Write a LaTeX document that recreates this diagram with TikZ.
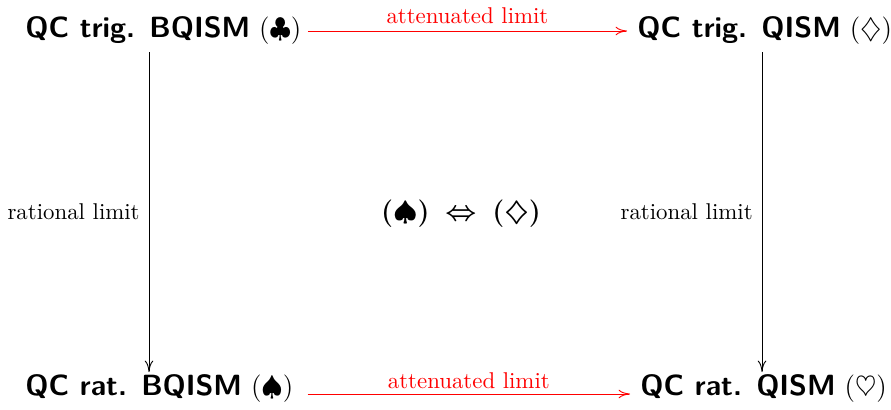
\documentclass[tikz,border=0pt]{standalone}
\usepackage{amsmath,amssymb}
\usetikzlibrary{calc,arrows.meta}
\newcommand{\objtxt}[1]{{\sffamily\bfseries\fontsize{12.8pt}{15pt}\selectfont #1}}
\begin{document}
\begin{tikzpicture}[x=0.4377pt,y=-0.4377pt,
  obj/.style={inner sep=0pt, font=\large},
  lab/.style={inner sep=0pt, font=\normalsize},
  arr/.style={-{To[length=5pt,width=3.8pt]}, line width=0.4pt},
  redarr/.style={arr, draw=red}]
\useasboundingbox (0,0) rectangle (891,409);
\node[obj, anchor=base west] (tl) at (25,37) {\objtxt{QC trig. BQISM} $(\clubsuit)$};
\node[obj, anchor=base west] (tr) at (637,37) {\objtxt{QC trig. QISM} $(\diamondsuit)$};
\node[obj, anchor=base west] (bl) at (25,395) {\objtxt{QC rat. BQISM} $(\spadesuit)$};
\node[obj, anchor=base west] (br) at (640,395) {\objtxt{QC rat. QISM} $(\heartsuit)$};
\node[inner sep=0pt, font=\large\boldmath] (mid) at (461,214) {$(\spadesuit)\hspace{3pt}\Leftrightarrow\hspace{3pt}(\diamondsuit)$};
\draw[redarr] ($(tl.base east)+(6,-6)$) -- node[lab, midway, above=3pt, text=red] {attenuated limit} ($(tr.base west)+(-10,-6)$);
\draw[redarr] ($(bl.base east)+(14,-1)$) -- node[lab, midway, above=2.3pt, text=red] {attenuated limit} ($(br.base west)+(-10,-1)$);
\draw[arr] ($(tl.base west)+(124,15)$) -- node[lab, midway, left=3.9pt] {rational limit} ($(bl.base west)+(124,-23)$);
\draw[arr] ($(tr.base west)+(125,15)$) -- node[lab, midway, left=3.9pt] {rational limit} ($(br.base west)+(122,-23)$);
\end{tikzpicture}
\end{document}
